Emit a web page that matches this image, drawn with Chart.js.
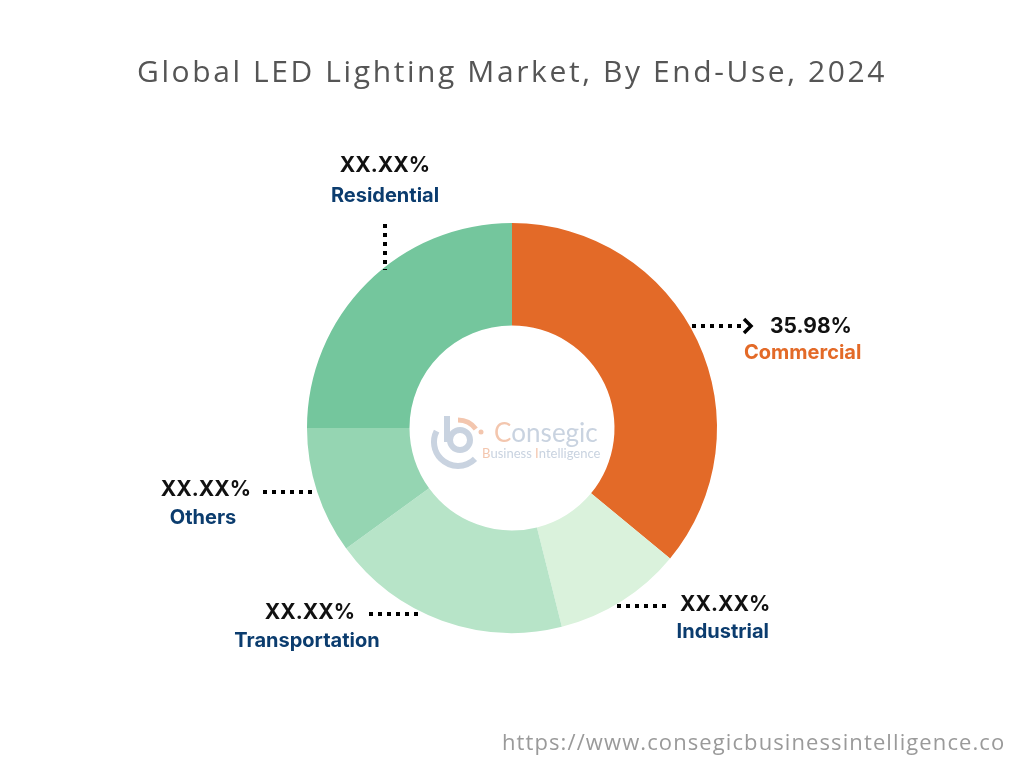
<!DOCTYPE html>
<html>
<head>
<meta charset="utf-8">
<script src="https://cdn.jsdelivr.net/npm/chart.js@4.4.1/dist/chart.umd.min.js"></script>
<style>
  html, body { margin: 0; padding: 0; background: #fff; }
  #wrap { width: 1024px; height: 768px; position: relative; }
</style>
</head>
<body>
<div id="wrap"><canvas id="chart" width="1024" height="768"></canvas></div>
<script>
//---------------------DATA--------------------------------------//
const segments = ['Commercial', 'Industrial', 'Transportation', 'Others', 'Residential'];
const shares = [35.98, 10.1, 18.9, 10.0, 25.0];
const shownValues = ['35.98%', 'XX.XX%', 'XX.XX%', 'XX.XX%', 'XX.XX%'];
const sliceColors = ['#E36A28', '#DAF2DC', '#B7E4C8', '#95D5B2', '#74C69D'];

//---------------------LABEL LAYOUT--------------------------------------//
// where each callout sits: value text, name text, dotted leader
const callouts = [
  { vx: 770, vy: 327, vAlign: 'left', nx: 744, ny: 353, nAlign: 'left', nameColor: '#E36A28',
    line: [692, 326, 742, 326], arrow: true },
  { vx: 680, vy: 605, vAlign: 'left', nx: 769, ny: 632, nAlign: 'right', nameColor: '#0B3C6E',
    line: [617, 606, 670, 606] },
  { vx: 355, vy: 613, vAlign: 'right', nx: 307, ny: 641, nAlign: 'center', nameColor: '#0B3C6E',
    line: [369, 614, 420, 614] },
  { vx: 251, vy: 490, vAlign: 'right', nx: 203, ny: 518, nAlign: 'center', nameColor: '#0B3C6E',
    line: [263, 492, 316, 492] },
  { vx: 385, vy: 166, vAlign: 'center', nx: 385, ny: 196, nAlign: 'center', nameColor: '#0B3C6E',
    line: [385, 224, 385, 270] }
];

//---------------------PLUGINS--------------------------------------//
const calloutPlugin = {
  id: 'callouts',
  afterDraw(chart) {
    const ctx = chart.ctx;
    ctx.save();
    ctx.textBaseline = 'middle';
    callouts.forEach((c, i) => {
      // dotted leader
      ctx.strokeStyle = '#000';
      ctx.lineWidth = 4;
      ctx.setLineDash([4, 5]);
      ctx.beginPath();
      ctx.moveTo(c.line[0], c.line[1]);
      ctx.lineTo(c.line[2], c.line[3]);
      ctx.stroke();
      ctx.setLineDash([]);
      if (c.arrow) {
        ctx.lineWidth = 3.5;
        ctx.beginPath();
        ctx.moveTo(c.line[2] + 2, c.line[3] - 7);
        ctx.lineTo(c.line[2] + 9, c.line[3]);
        ctx.lineTo(c.line[2] + 2, c.line[3] + 7);
        ctx.stroke();
      }
      ctx.fillStyle = '#111';
      ctx.font = 'bold 21px Inter';
      ctx.textAlign = c.vAlign;
      ctx.fillText(shownValues[i], c.vx, c.vy);
      ctx.fillStyle = c.nameColor;
      ctx.font = 'bold 20px Inter';
      ctx.textAlign = c.nAlign;
      ctx.fillText(segments[i], c.nx, c.ny);
    });

    // watermark logo in the hole
    const arc = chart.getDatasetMeta(0).data[0];
    const lx = arc.x - 54, ly = arc.y + 14;
    ctx.lineCap = 'butt';
    ctx.strokeStyle = '#C9D3E0';
    ctx.lineWidth = 6;
    ctx.beginPath();
    ctx.arc(lx, ly, 24, Math.PI * 0.25, Math.PI * 1.15);
    ctx.stroke();
    ctx.lineWidth = 6;
    ctx.beginPath();
    ctx.arc(lx + 2, ly - 2, 10, 0, Math.PI * 2);
    ctx.stroke();
    ctx.beginPath();
    ctx.moveTo(lx - 11, ly - 26);
    ctx.lineTo(lx - 11, ly);
    ctx.stroke();
    ctx.strokeStyle = '#F3C6AE';
    ctx.lineWidth = 5;
    ctx.beginPath();
    ctx.arc(lx, ly, 22, Math.PI * 1.5, Math.PI * 1.8);
    ctx.stroke();
    ctx.fillStyle = '#F3C6AE';
    ctx.beginPath();
    ctx.arc(lx + 23, ly - 10, 2.5, 0, Math.PI * 2);
    ctx.fill();
    ctx.textAlign = 'left';
    ctx.textBaseline = 'alphabetic';
    ctx.font = '26px Lato';
    ctx.fillStyle = '#F3C6AE';
    ctx.fillText('C', arc.x - 18, arc.y + 14);
    const cw = ctx.measureText('C').width;
    ctx.fillStyle = '#C9D3E0';
    ctx.fillText('onsegic', arc.x - 18 + cw, arc.y + 14);
    ctx.font = '13px Lato';
    let tx = arc.x - 30;
    [['B', '#F3C6AE'], ['usiness ', '#C9D3E0'], ['I', '#F3C6AE'], ['ntelligence', '#C9D3E0']].forEach(p => {
      ctx.fillStyle = p[1];
      ctx.fillText(p[0], tx, arc.y + 30);
      tx += ctx.measureText(p[0]).width;
    });

    // footer url
    ctx.textBaseline = 'middle';
    ctx.font = '22px "Open Sans"';
    ctx.letterSpacing = '1.1px';
    ctx.fillStyle = '#9A9A9A';
    ctx.fillText('https://www.consegicbusinessintelligence.co', 502, 744);
    ctx.letterSpacing = '0px';
    ctx.restore();
  }
};

//---------------------CHART--------------------------------------//
const ctx = document.getElementById('chart');
new Chart(ctx, {
  type: 'doughnut',
  data: {
    labels: segments,
    datasets: [{
      data: shares,
      backgroundColor: sliceColors,
      borderWidth: 0
    }]
  },
  options: {
    responsive: false,
    animation: false,
    cutout: '50%',
    layout: { padding: { top: 223, bottom: 135, left: 0, right: 0 } },
    plugins: {
      legend: { display: false },
      tooltip: { enabled: false },
      title: { display: false }
    }
  },
  plugins: [calloutPlugin, {
    id: 'pageTitle',
    afterDraw(chart) {
      const c = chart.ctx;
      c.save();
      c.font = '30px "Open Sans"';
      c.letterSpacing = '2.6px';
      c.fillStyle = '#555';
      c.textAlign = 'center';
      c.textBaseline = 'middle';
      c.fillText('Global LED Lighting Market, By End-Use, 2024', 512, 73);
      c.restore();
    }
  }]
});
</script>
</body>
</html>
